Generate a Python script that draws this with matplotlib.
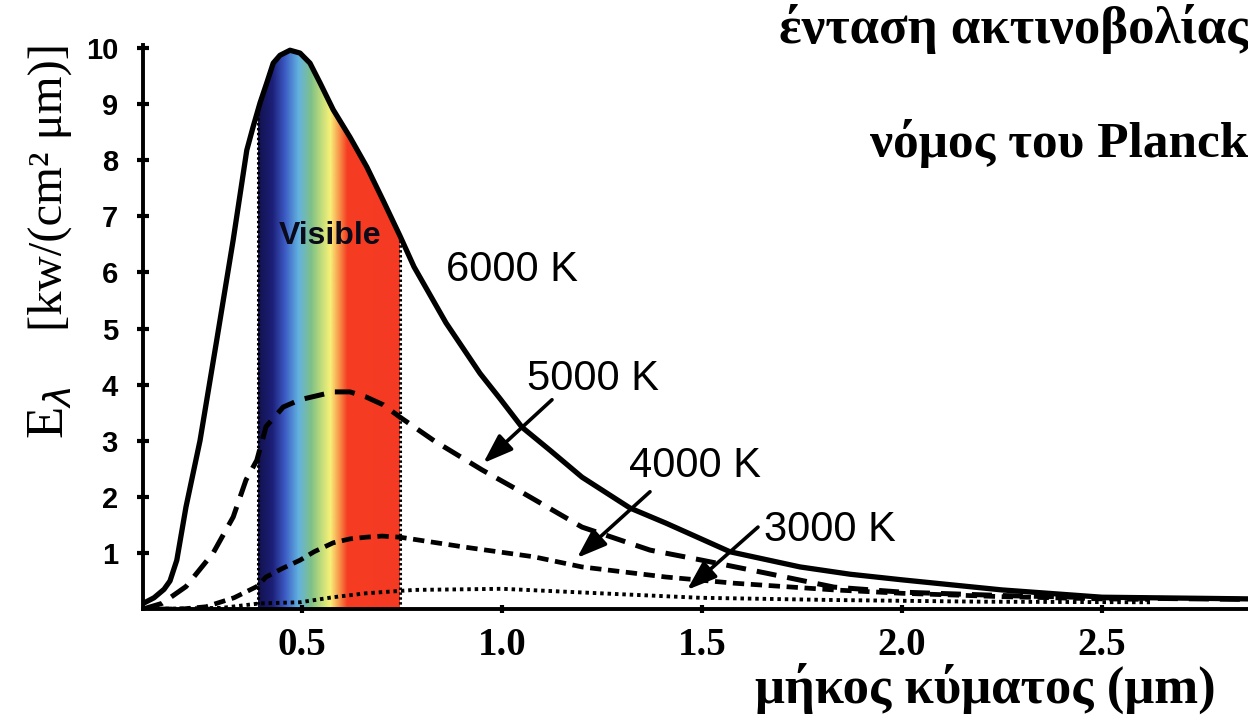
import numpy as np
import matplotlib
matplotlib.use("Agg")
import matplotlib.pyplot as plt
from matplotlib.colors import LinearSegmentedColormap
from matplotlib.patches import Polygon

# ---------------- data ----------------
x_6000 = [0.103, 0.13, 0.155, 0.17, 0.187, 0.21, 0.245, 0.287, 0.328, 0.362, 0.378,
          0.395, 0.412, 0.428, 0.445, 0.47, 0.495, 0.52, 0.545, 0.578, 0.62, 0.662,
          0.703, 0.745, 0.78, 0.86, 0.945, 0.995, 1.05, 1.12, 1.20, 1.32,
          1.41, 1.57, 1.745, 1.87, 2.0, 2.25, 2.5, 2.75, 2.87]
y_6000 = [0.1, 0.2, 0.35, 0.5, 0.87, 1.82, 3.0, 4.8, 6.58, 8.18, 8.6,
          9.02, 9.38, 9.73, 9.87, 9.96, 9.91, 9.73, 9.38, 8.9, 8.41, 7.88,
          7.28, 6.65, 6.1, 5.1, 4.2, 3.75, 3.24, 2.83, 2.35, 1.8,
          1.53, 1.02, 0.75, 0.62, 0.52, 0.34, 0.21, 0.19, 0.18]

x_5000 = [0.103, 0.15, 0.21, 0.278, 0.328, 0.36, 0.387, 0.41, 0.453, 0.495, 0.578,
          0.62, 0.66, 0.703, 0.745, 0.83, 0.95, 1.04, 1.2, 1.37, 1.5, 1.66, 1.83,
          2.0, 2.25, 2.5, 2.75, 2.87]
y_5000 = [0.0, 0.1, 0.4, 1.0, 1.64, 2.3, 2.65, 3.25, 3.6, 3.73, 3.87,
          3.87, 3.78, 3.64, 3.42, 3.0, 2.48, 2.12, 1.46, 1.05, 0.87, 0.64, 0.39,
          0.3, 0.24, 0.2, 0.18, 0.17]

x_4000 = [0.103, 0.2, 0.26, 0.33, 0.387, 0.41, 0.45, 0.495, 0.53, 0.578, 0.62, 0.66,
          0.70, 0.745, 0.91, 1.08, 1.2, 1.41, 1.58, 1.83, 2.0, 2.25, 2.5, 2.62]
y_4000 = [0.0, 0.0, 0.04, 0.2, 0.4, 0.57, 0.72, 0.87, 1.02, 1.18, 1.25, 1.28,
          1.3, 1.28, 1.1, 0.93, 0.75, 0.57, 0.46, 0.34, 0.28, 0.22, 0.18, 0.17]

x_3000 = [0.103, 0.3, 0.395, 0.495, 0.578, 0.66, 0.78, 1.0, 1.245, 1.495, 1.83, 2.2, 2.62]
y_3000 = [0.0, 0.02, 0.1, 0.12, 0.21, 0.28, 0.34, 0.36, 0.28, 0.2, 0.16, 0.13, 0.12]

visible_range = [0.39, 0.745]
x_ticks = [0.5, 1.0, 1.5, 2.0, 2.5]
x_tick_labels = ["0.5", "1.0", "1.5", "2.0", "2.5"]
y_ticks = [1, 2, 3, 4, 5, 6, 7, 8, 9, 10]

curve_labels = ["6000 K", "5000 K", "4000 K", "3000 K"]

# ---------------- figure ----------------
W, H = 1248, 716
fig = plt.figure(figsize=(W / 100, H / 100), dpi=100)
fig.patch.set_facecolor("white")

left_px, right_px, bottom_px, top_px = 143, 1248, 609, 45.2
ax = fig.add_axes([left_px / W, 1 - bottom_px / H,
                   (right_px - left_px) / W, (bottom_px - top_px) / H])
ax.set_xlim(0.1025, 2.865)
ax.set_ylim(0, 10.05)

# rainbow band under the 6000 K curve
stops = [(0.0, "#12124e"), (0.1, "#1c1f78"), (0.19, "#3c5cc4"), (0.285, "#62b2e0"),
         (0.375, "#7fc088"), (0.455, "#c8e07a"), (0.51, "#f8f078"), (0.565, "#f8a050"),
         (0.63, "#f63c22"), (1.0, "#f43a22")]
cmap = LinearSegmentedColormap.from_list("vis", stops)
grad = np.linspace(0, 1, 400).reshape(1, -1)
im = ax.imshow(grad, extent=[visible_range[0], visible_range[1], 0, 10.05],
               aspect="auto", cmap=cmap, origin="lower", zorder=1, interpolation="bilinear")
verts = np.column_stack([np.r_[x_6000, x_6000[::-1]],
                         np.r_[y_6000, np.zeros(len(x_6000))]])
clip = Polygon(verts, closed=True, facecolor="none", edgecolor="none")
ax.add_patch(clip)
im.set_clip_path(clip)

for xe in visible_range:
    ax.plot([xe, xe], [0, np.interp(xe, x_6000, y_6000)], color="black",
            linestyle=(0, (0.8, 0.8)), lw=2.2, zorder=2)

# curves
ax.plot(x_6000, y_6000, color="black", lw=3.8, zorder=4, solid_capstyle="round",
        solid_joinstyle="round")
ax.plot(x_5000, y_5000, color="black", lw=3.6, linestyle=(0, (4, 2.2)), zorder=4)
ax.plot(x_4000, y_4000, color="black", lw=3.4, linestyle=(0, (2.4, 1.4)), zorder=4)
ax.plot(x_3000, y_3000, color="black", lw=2.8, linestyle=(0, (0.9, 1.0)), zorder=4)

# spines / ticks
for s in ["top", "right"]:
    ax.spines[s].set_visible(False)
ax.spines["left"].set_linewidth(2.8)
ax.spines["bottom"].set_linewidth(2.8)
ax.set_yticks(y_ticks)
ax.set_yticklabels([str(v) for v in y_ticks], fontfamily="Liberation Sans",
                   fontweight="bold", fontsize=21)
ax.set_xticks(x_ticks)
ax.set_xticklabels(x_tick_labels, fontfamily="Liberation Serif",
                   fontweight="bold", fontsize=28)
ax.tick_params(axis="y", direction="inout", length=8, width=3, pad=14)
ax.tick_params(axis="x", direction="inout", length=6, width=3, pad=10)

# annotations
ax.text(0.57, 6.65, "Visible", fontfamily="Liberation Sans", fontweight="bold",
        fontsize=23, ha="center", va="center", color="#0a0a1a", zorder=5)
txt_kw = dict(fontfamily="Liberation Sans", fontsize=30, ha="center", va="center",
              color="black", zorder=5)
ax.text(1.025, 6.05, curve_labels[0], **txt_kw)
arrow_kw = dict(arrowstyle="-|>,head_length=0.9,head_width=0.32", color="black",
                lw=2.6, shrinkA=0, shrinkB=0, mutation_scale=20)
ax.annotate("", xy=(0.953, 2.6), xytext=(1.125, 3.73), arrowprops=arrow_kw, zorder=5)
ax.text(1.2275, 4.1, curve_labels[1], **txt_kw)
ax.annotate("", xy=(1.1875, 0.91), xytext=(1.37, 2.09), arrowprops=arrow_kw, zorder=5)
ax.text(1.4825, 2.55, curve_labels[2], **txt_kw)
ax.annotate("", xy=(1.4625, 0.34), xytext=(1.64, 1.46), arrowprops=arrow_kw, zorder=5)
ax.text(1.82, 1.41, curve_labels[3], **txt_kw)

# titles and axis labels (figure coordinates)
serif = "Liberation Serif"
fig.text(1.0, 1 - 43 / H, "ένταση ακτινοβολίας", fontfamily=serif, fontweight="bold",
         fontsize=38, ha="right", va="baseline")
fig.text(1.0, 1 - 157 / H, "νόμος του Planck", fontfamily=serif, fontweight="bold",
         fontsize=37, ha="right", va="baseline")
fig.text(985 / W, 1 - 703 / H, "μήκος κύματος (μm)", fontfamily=serif, fontweight="bold",
         fontsize=38, ha="center", va="baseline")
fig.text(50 / W, 1 - 187 / H, "[kw/(cm² μm)]", fontfamily=serif, fontsize=35,
         rotation=90, ha="center", va="center")
fig.text(50 / W, 1 - 413 / H, r"E$_{\lambda}$", fontfamily=serif, fontsize=38,
         rotation=90, ha="center", va="center")

fig.savefig("out.png", dpi=100, facecolor="white")
